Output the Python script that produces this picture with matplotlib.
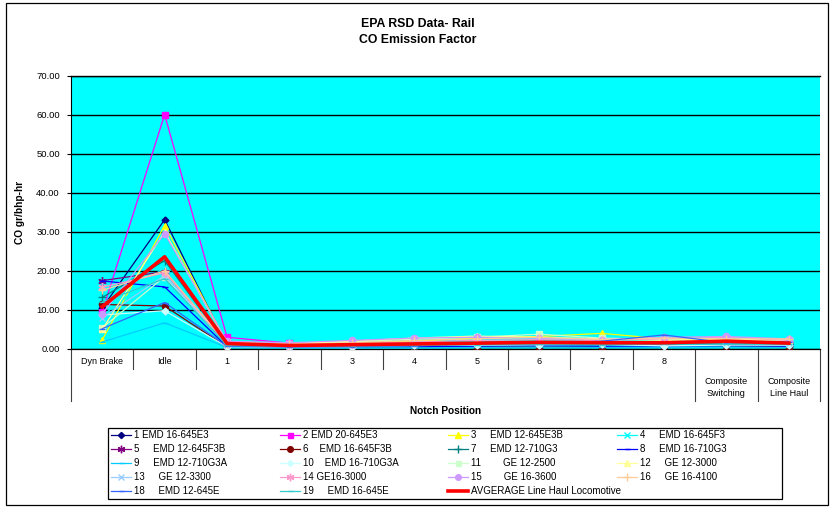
import matplotlib
matplotlib.use("Agg")
import matplotlib.pyplot as plt
from matplotlib.patches import Rectangle

plt.rcParams['font.family'] = ['Liberation Sans', 'DejaVu Sans']

categories = ["Dyn Brake", "Idle", "1", "2", "3", "4", "5", "6", "7", "8",
              "Composite\nSwitching", "Composite\nLine Haul"]

s1 = [10.5, 33.1, 1.0, 0.6, 0.7, 0.9, 1.1, 1.2, 1.1, 1.3, 1.4, 1.2]
s2 = [9.5, 60.0, 3.0, 1.5, 1.3, 1.4, 1.3, 1.5, 1.6, 1.4, 2.5, 1.5]
s3 = [2.3, 31.6, 1.5, 1.2, 1.6, 2.0, 2.8, 3.2, 4.0, 2.6, 2.2, 2.4]
s4 = [8.5, 21.0, 0.8, 0.6, 0.7, 0.8, 1.0, 1.1, 1.0, 1.2, 1.5, 1.0]
s5 = [17.5, 19.8, 1.2, 0.8, 0.9, 1.0, 1.2, 1.4, 1.2, 1.3, 1.8, 1.3]
s6 = [11.4, 11.0, 0.5, 0.4, 0.5, 0.5, 0.6, 0.6, 0.6, 0.7, 0.8, 0.6]
s7 = [13.2, 22.6, 1.0, 0.7, 0.8, 1.0, 1.3, 1.4, 1.3, 1.4, 1.4, 1.3]
s8 = [17.4, 15.9, 0.6, 0.4, 0.5, 0.6, 0.7, 0.8, 0.7, 0.6, 0.8, 0.7]
s9 = [1.8, 6.7, 0.4, 0.3, 0.3, 0.3, 0.4, 0.5, 0.4, 0.5, 0.5, 0.4]
s10 = [8.7, 9.8, 0.6, 0.5, 0.6, 0.9, 1.0, 1.1, 1.2, 0.8, 1.0, 1.0]
s11 = [5.4, 18.5, 1.8, 1.4, 1.8, 2.5, 3.0, 3.8, 2.8, 2.4, 2.0, 2.4]
s12 = [5.0, 30.0, 1.6, 1.4, 2.0, 2.8, 3.3, 3.0, 2.6, 2.2, 2.5, 2.3]
s13 = [8.0, 18.8, 1.0, 0.8, 1.0, 1.3, 1.6, 1.8, 1.6, 1.8, 1.6, 1.6]
s14 = [15.8, 19.5, 1.5, 1.0, 1.4, 1.8, 2.2, 2.4, 2.2, 2.6, 3.0, 2.2]
s15 = [9.0, 29.5, 2.0, 1.6, 2.2, 2.8, 3.0, 2.8, 2.4, 3.0, 3.2, 2.6]
s16 = [15.0, 20.0, 1.4, 1.2, 1.6, 2.2, 2.6, 3.0, 2.4, 2.8, 2.6, 2.6]
s18 = [5.2, 11.9, 0.7, 0.5, 0.6, 0.8, 1.2, 1.4, 2.0, 3.6, 1.6, 1.8]
s19 = [12.0, 18.0, 0.9, 0.7, 0.8, 0.9, 1.1, 1.2, 1.1, 1.3, 1.2, 1.2]
avg = [10.8, 23.6, 1.4, 0.9, 1.1, 1.3, 1.5, 1.7, 1.6, 1.6, 2.0, 1.5]

labels = {
    1: "1 EMD 16-645E3", 2: "2 EMD 20-645E3", 3: "3     EMD 12-645E3B",
    4: "4     EMD 16-645F3", 5: "5     EMD 12-645F3B", 6: "6    EMD 16-645F3B",
    7: "7     EMD 12-710G3", 8: "8     EMD 16-710G3", 9: "9     EMD 12-710G3A",
    10: "10    EMD 16-710G3A", 11: "11        GE 12-2500", 12: "12     GE 12-3000",
    13: "13     GE 12-3300", 14: "14 GE16-3000", 15: "15        GE 16-3600",
    16: "16     GE 16-4100", 18: "18     EMD 12-645E", 19: "19     EMD 16-645E",
}
avg_label = "AVGERAGE Line Haul Locomotive"

star = (6, 2, 0)
styles = {
    1: (s1, "#000080", "D", 3.5),
    2: (s2, "#FF00FF", "s", 4),
    3: (s3, "#FFFF00", "^", 4.5),
    4: (s4, "#00FFFF", "x", 4.5),
    5: (s5, "#800080", star, 6),
    6: (s6, "#800000", "o", 4.5),
    7: (s7, "#008080", "+", 6),
    8: (s8, "#0000FF", "_", 4),
    9: (s9, "#00CCFF", "_", 4),
    10: (s10, "#CCFFFF", "D", 3.5),
    11: (s11, "#CCFFCC", "s", 4),
    12: (s12, "#FFFF99", "^", 4.5),
    13: (s13, "#99CCFF", "x", 4.5),
    14: (s14, "#FF99CC", star, 6),
    15: (s15, "#CC99FF", "o", 4.5),
    16: (s16, "#FFCC99", "+", 6),
    18: (s18, "#3366FF", "_", 4),
    19: (s19, "#33CCCC", "_", 4),
}

W, H = 830, 507
fig = plt.figure(figsize=(W / 100, H / 100), dpi=100)
ax = fig.add_axes([71 / W, 1 - 349 / H, (820 - 71) / W, (349 - 75.5) / H])
ax.set_facecolor("#00FFFF")

x = list(range(len(categories)))
handles = {}
for k, (vals, col, mk, ms) in styles.items():
    (h,) = ax.plot(x, vals, color=col, lw=0.9, marker=mk, ms=ms,
                   mec=col, mfc=col, mew=1.0, zorder=3)
    handles[k] = h
(havg,) = ax.plot(x, avg, color="#FF0000", lw=2.6, zorder=4)

ax.set_xlim(-0.5, len(categories) - 0.5)
ax.set_ylim(0, 70)
ax.set_yticks(range(0, 71, 10))
ax.set_yticklabels([f"{v:.2f}" for v in range(0, 71, 10)], fontsize=6.8)
ax.yaxis.grid(True, color="black", lw=1.0)
ax.set_axisbelow(True)
ax.tick_params(axis="y", direction="out", length=3, width=0.8, pad=5)
ax.tick_params(axis="x", bottom=False, labelbottom=False)
for sp in ["right"]:
    ax.spines[sp].set_visible(False)
ax.spines["top"].set_color("black")
ax.spines["left"].set_linewidth(0.8)
ax.spines["bottom"].set_linewidth(0.9)
ax.spines["top"].set_linewidth(1.0)

ax.set_ylabel("CO gr/bhp-hr", fontsize=7.3, fontweight="bold", labelpad=8)

# category separators and labels
trans = ax.get_xaxis_transform()
axh = 349 - 75.5
short = -(369 - 349) / axh
long_ = -(401 - 349) / axh
n = len(categories)
for b in range(n + 1):
    yb = long_ if (b == 0 or b >= n - 2) else short
    ax.plot([b - 0.5, b - 0.5], [0, yb], color="#404040", lw=0.8,
            transform=trans, clip_on=False)
for i, c in enumerate(categories):
    if "\n" in c:
        ax.text(i, -(387.5 - 349) / axh, c, transform=trans, ha="center",
                va="center", fontsize=6.5, linespacing=1.45)
    else:
        ax.text(i, -(362 - 349) / axh, c, transform=trans, ha="center",
                va="center", fontsize=6.5)

fig.text((71 + 820) / 2 / W, 1 - 411 / H, "Notch Position", ha="center",
         va="center", fontsize=7.3, fontweight="bold")

fig.text(418 / W, 1 - 24 / H, "EPA RSD Data- Rail", ha="center", va="center",
         fontsize=8.8, fontweight="bold")
fig.text(418 / W, 1 - 40 / H, "CO Emission Factor", ha="center", va="center",
         fontsize=8.8, fontweight="bold")

# legend: 4 columns, row-wise like Excel
cols = [
    ([handles[1], handles[5], handles[9], handles[13], handles[18]],
     [labels[1], labels[5], labels[9], labels[13], labels[18]], 111),
    ([handles[2], handles[6], handles[10], handles[14], handles[19]],
     [labels[2], labels[6], labels[10], labels[14], labels[19]], 280),
    ([handles[3], handles[7], handles[11], handles[15], havg],
     [labels[3], labels[7], labels[11], labels[15], avg_label], 448),
    ([handles[4], handles[8], handles[12], handles[16]],
     [labels[4], labels[8], labels[12], labels[16]], 617),
]
for hs, ls, xp in cols:
    fig.legend(hs, ls, loc="upper left", bbox_to_anchor=(xp / W, 1 - 430 / H),
               frameon=False, fontsize=7, borderpad=0, borderaxespad=0,
               handlelength=2.1, handletextpad=0.25, labelspacing=0.42,
               markerscale=0.9)

fig.add_artist(Rectangle((108 / W, 1 - 499 / H), (782 - 108) / W, (499 - 428) / H,
                         transform=fig.transFigure, fill=False, ec="black", lw=0.9))
fig.add_artist(Rectangle((6 / W, 1 - 505 / H), (828 - 6) / W, (505 - 3) / H,
                         transform=fig.transFigure, fill=False, ec="black", lw=0.9))

fig.savefig("out.png", dpi=100)
